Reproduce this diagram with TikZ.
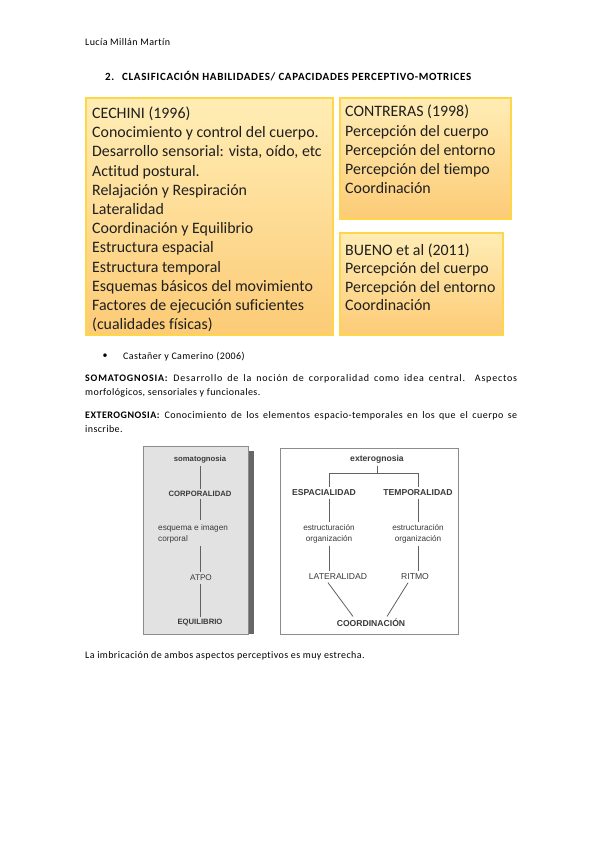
\documentclass[tikz,border=0pt]{standalone}
\usepackage{fontspec}
\setmainfont{Carlito}[Ligatures=NoCommon]
\newfontfamily\bodyfont{Carlito}[LetterSpace=4,Ligatures=NoCommon]
\newfontfamily\widefont{Carlito}[LetterSpace=8,Ligatures=NoCommon]
\newfontfamily\midfont{Carlito}[LetterSpace=5,Ligatures=NoCommon]
\newfontfamily\headfont{Carlito}[LetterSpace=6,Ligatures=NoCommon]
\newfontfamily\scanfont{Liberation Sans}
\definecolor{boxtop}{HTML}{FFEDB5}
\definecolor{boxbot}{HTML}{FCCB76}
\definecolor{boxline}{HTML}{FFD54A}
\definecolor{scanfill}{HTML}{E2E2E2}
\definecolor{scanink}{HTML}{3A3A3A}
\begin{document}
\begin{tikzpicture}[x=1pt,y=-1pt,
  txt/.style={anchor=base west, inner sep=0pt, font=\bodyfont\fontsize{10}{12}\selectfont, text=black},
  widetxt/.style={anchor=base west, inner sep=0pt, font=\widefont\fontsize{10}{12}\selectfont, text=black},
  midtxt/.style={anchor=base west, inner sep=0pt, font=\midfont\fontsize{10}{12}\selectfont, text=black},
  boxtxt/.style={anchor=base west, inner sep=0pt, font=\fontsize{15.9}{18}\selectfont, text=black!88},
  cbox/.style={draw=boxline, line width=1.2pt, top color=boxtop, bottom color=boxbot},
  scan/.style={inner sep=2.5pt, font=\scanfont\fontsize{8.2}{10}\selectfont, text=scanink},
  scanb/.style={inner sep=2.5pt, font=\scanfont\bfseries\fontsize{7.7}{9}\selectfont, text=scanink},
  scanbr/.style={inner sep=2.5pt, font=\scanfont\bfseries\fontsize{8.6}{10}\selectfont, text=scanink},
  sline/.style={draw=scanink!80, line width=0.8pt}]
\useasboundingbox[fill=white] (0,0) rectangle (599,848);

% header
\node[txt] (author) at (85,46) {Lucía Millán Martín};
\node[txt, font=\headfont\bfseries\fontsize{11}{13}\selectfont] (num) at (105,81) {2.};
\node[txt, font=\headfont\bfseries\fontsize{11}{13}\selectfont] (title) at (122,81) {CLASIFICACIÓN HABILIDADES/ CAPACIDADES PERCEPTIVO-MOTRICES};

% boxes
\path[cbox] (86,98) rectangle (333,335);
\path[cbox] (340,98) rectangle (511,219);
\path[cbox] (340,233) rectangle (503,335);

\foreach \t [count=\i] in {CECHINI (1996),Conocimiento y control del cuerpo.,{Desarrollo sensorial: vista, oído, etc},Actitud postural.,Relajación y Respiración,Lateralidad,Coordinación y Equilibrio,Estructura espacial,Estructura temporal,Esquemas básicos del movimiento,Factores de ejecución suficientes,(cualidades físicas)}
  \node[boxtxt] (c\i) at (92,{118.5+19.2*(\i-1)}) {\t};

\foreach \t [count=\i] in {CONTRERAS (1998),Percepción del cuerpo,Percepción del entorno,Percepción del tiempo,Coordinación}
  \node[boxtxt] (r\i) at (345,{117+19.2*(\i-1)}) {\t};

\foreach \t [count=\i] in {BUENO et al (2011),Percepción del cuerpo,Percepción del entorno,Coordinación}
  \node[boxtxt] (b\i) at (345,{255.5+18.4*(\i-1)}) {\t};

% body text
\node[inner sep=0pt, font=\fontsize{10}{12}\selectfont] (bul) at (105,356) {•};
\node[txt] (cast) at (123,359.5) {Castañer y Camerino (2006)};
\node[widetxt] (soma1) at (85,381) {\makebox[432pt][s]{\textbf{SOMATOGNOSIA:} Desarrollo de la noción de corporalidad como idea central. Aspectos}};
\node[txt] (soma2) at (85,395) {morfológicos, sensoriales y funcionales.};
\node[midtxt] (ext1) at (85,418) {\makebox[432pt][s]{\textbf{EXTEROGNOSIA:} Conocimiento de los elementos espacio-temporales en los que el cuerpo se}};
\node[txt] (ext2) at (85,432) {inscribe.};
\node[txt] (fin) at (85,658.5) {La imbricación de ambos aspectos perceptivos es muy estrecha.};

% left scanned figure
\fill[black!60] (248,451) rectangle (254,634);
\path[fill=scanfill, draw=black!45, line width=0.6pt] (143,446) rectangle (248,634);
\node[scanb] (soma) at (200,460) {somatognosia};
\node[scanb] (corp) at (200,494) {CORPORALIDAD};
\node[scan, anchor=north west, align=left, inner sep=0pt, font=\scanfont\fontsize{8.2}{11}\selectfont] (esq) at (158,524) {esquema e imagen\\corporal};
\node[scan] (atpo) at (201,578) {ATPO};
\node[scanb] (equi) at (200,623) {EQUILIBRIO};
\draw[sline] (soma) -- (corp);
\draw[sline] (corp.south) -- ([yshift=4]corp.south |- esq.north);
\draw[sline] ([yshift=-3]corp.south |- esq.south) -- (corp.south |- atpo.north);
\draw[sline] (corp.south |- atpo.south) -- (corp.south |- equi.north);

% right scanned figure
\path[fill=white, draw=black!45, line width=0.7pt] (280,448) rectangle (458,634);
\node[scanbr] (exto) at (377,459) {exterognosia};
\coordinate (jn) at (377,473);
\node[scanbr] (esp) at (324,493) {ESPACIALIDAD};
\node[scanbr] (tem) at (418,493) {TEMPORALIDAD};
\node[scan, align=center, font=\scanfont\fontsize{8.2}{10.5}\selectfont] (est1) at (329,534) {estructuración\\organización};
\node[scan, align=center, font=\scanfont\fontsize{8.2}{10.5}\selectfont] (est2) at (418,534) {estructuración\\organización};
\node[scan, font=\scanfont\fontsize{8.6}{10}\selectfont] (lat) at (338,577) {LATERALIDAD};
\node[scan, font=\scanfont\fontsize{8.6}{10}\selectfont] (rit) at (415,577) {RITMO};
\node[scanbr] (coor) at (371,623) {COORDINACIÓN};
\draw[sline] (exto.south) -- (jn);
\draw[sline] ([xshift=5]esp.north) -- ([xshift=5]esp.north |- jn) -- (tem.north |- jn) -- (tem.north);
\draw[sline] ([xshift=5]esp.south) -- ([xshift=5]esp.south |- est1.north);
\draw[sline] (tem) -- (est2);
\draw[sline] (est1.south) -- (est1.south |- lat.north);
\draw[sline] (est2.south) -- (est2.south |- rit.north);
\draw[sline] ([xshift=-10]lat.south) -- ([xshift=-18]coor.north);
\draw[sline] ([xshift=-7]rit.south) -- ([xshift=16]coor.north);
\end{tikzpicture}
\end{document}
